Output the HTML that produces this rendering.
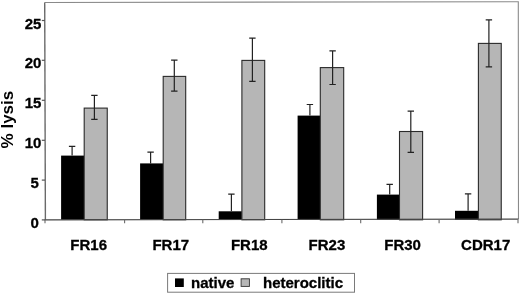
<!DOCTYPE html>
<html><head><meta charset="utf-8"><style>
html,body{margin:0;padding:0;background:#fff;}
body{width:520px;height:294px;overflow:hidden;}
svg{display:block;filter:blur(0.35px);}
.t{font-family:"Liberation Sans",Arial,sans-serif;font-weight:bold;font-size:15px;fill:#000;stroke:#000;stroke-width:0.3px;}
.yl{font-family:"Liberation Sans",Arial,sans-serif;font-weight:bold;font-size:15px;fill:#000;stroke:#000;stroke-width:0.3px;}
.yt{font-family:"Liberation Sans",Arial,sans-serif;font-weight:bold;font-size:17px;fill:#000;}
</style></head><body>
<svg width="520" height="294" viewBox="0 0 520 294">
<path d="M44.7 2.5L518.3 1.7L518.5 219.2" stroke="#8a8a8a" stroke-width="1.1" fill="none"/>
<rect x="61.1" y="155.6" width="23.1" height="64.2" fill="#000"/>
<rect x="84.2" y="108.1" width="23.05" height="111.7" fill="#b6b6b6" stroke="#2a2a2a" stroke-width="1.1"/>
<path d="M72.1 155.6V146.4M68.9 146.4H75.3" stroke="#222" stroke-width="1.2" fill="none"/>
<path d="M94.4 119.4V95.4M91.2 95.4H97.6M91.2 119.4H97.6" stroke="#222" stroke-width="1.2" fill="none"/>
<rect x="140.1" y="163.4" width="23.1" height="56.4" fill="#000"/>
<rect x="163.2" y="76.4" width="22.5" height="143.4" fill="#b6b6b6" stroke="#2a2a2a" stroke-width="1.1"/>
<path d="M150.6 163.4V152.2M147.4 152.2H153.8" stroke="#222" stroke-width="1.2" fill="none"/>
<path d="M174.3 91.1V60.2M171.1 60.2H177.5M171.1 91.1H177.5" stroke="#222" stroke-width="1.2" fill="none"/>
<rect x="218.7" y="211.3" width="23.2" height="8.5" fill="#000"/>
<rect x="241.9" y="60.4" width="22.8" height="159.4" fill="#b6b6b6" stroke="#2a2a2a" stroke-width="1.1"/>
<path d="M231.4 211.3V194.1M228.2 194.1H234.6" stroke="#222" stroke-width="1.2" fill="none"/>
<path d="M252.4 81.4V38.1M249.2 38.1H255.6M249.2 81.4H255.6" stroke="#222" stroke-width="1.2" fill="none"/>
<rect x="297.6" y="115.6" width="22.7" height="104.2" fill="#000"/>
<rect x="320.3" y="67.6" width="23.4" height="152.2" fill="#b6b6b6" stroke="#2a2a2a" stroke-width="1.1"/>
<path d="M309.9 115.6V104.5M306.7 104.5H313.1" stroke="#222" stroke-width="1.2" fill="none"/>
<path d="M332.6 84.5V50.9M329.4 50.9H335.8M329.4 84.5H335.8" stroke="#222" stroke-width="1.2" fill="none"/>
<rect x="376.9" y="194.6" width="22.6" height="25.2" fill="#000"/>
<rect x="399.5" y="131.5" width="23.1" height="88.3" fill="#b6b6b6" stroke="#2a2a2a" stroke-width="1.1"/>
<path d="M389.7 194.6V184.3M386.5 184.3H392.9" stroke="#222" stroke-width="1.2" fill="none"/>
<path d="M410.8 152.4V111.2M407.6 111.2H414.0M407.6 152.4H414.0" stroke="#222" stroke-width="1.2" fill="none"/>
<rect x="455.0" y="210.8" width="23.4" height="9.0" fill="#000"/>
<rect x="478.4" y="43.4" width="22.85" height="176.4" fill="#b6b6b6" stroke="#2a2a2a" stroke-width="1.1"/>
<path d="M468.1 210.8V193.8M464.9 193.8H471.3" stroke="#222" stroke-width="1.2" fill="none"/>
<path d="M488.9 66.8V19.9M485.7 19.9H492.1M485.7 66.8H492.1" stroke="#222" stroke-width="1.2" fill="none"/>
<path d="M44.7 2.5L45.4 219.8" stroke="#6a6a6a" stroke-width="1.4" fill="none"/>
<path d="M44.6 219.8L518.5 219.1" stroke="#454545" stroke-width="1.2" fill="none"/>
<path d="M41.8 219.9H45" stroke="#555" stroke-width="1.2"/>
<path d="M41.8 180.1H45" stroke="#555" stroke-width="1.2"/>
<path d="M41.8 140.3H45" stroke="#555" stroke-width="1.2"/>
<path d="M41.8 100.3H45" stroke="#555" stroke-width="1.2"/>
<path d="M41.8 60.3H45" stroke="#555" stroke-width="1.2"/>
<path d="M41.8 20.5H45" stroke="#555" stroke-width="1.2"/>
<path d="M45 219.8V223.3" stroke="#6a6a6a" stroke-width="1.1"/>
<path d="M124.6 219.8V223.3" stroke="#6a6a6a" stroke-width="1.1"/>
<path d="M202.8 219.8V223.3" stroke="#6a6a6a" stroke-width="1.1"/>
<path d="M281.9 219.8V223.3" stroke="#6a6a6a" stroke-width="1.1"/>
<path d="M360.7 219.8V223.3" stroke="#6a6a6a" stroke-width="1.1"/>
<path d="M439.1 219.8V223.3" stroke="#6a6a6a" stroke-width="1.1"/>
<path d="M518 219.8V223.3" stroke="#6a6a6a" stroke-width="1.1"/>
<text x="38.9" y="227.9" text-anchor="end" class="yl">0</text>
<text x="38.9" y="188.1" text-anchor="end" class="yl">5</text>
<text x="41.4" y="148.3" text-anchor="end" class="yl">10</text>
<text x="41.4" y="108.3" text-anchor="end" class="yl">15</text>
<text x="41.4" y="68.3" text-anchor="end" class="yl">20</text>
<text x="41.4" y="28.5" text-anchor="end" class="yl">25</text>
<text transform="translate(88.7 249.8)" text-anchor="middle" class="t">FR16</text>
<text transform="translate(170.8 249.8)" text-anchor="middle" class="t">FR17</text>
<text transform="translate(249.3 249.8)" text-anchor="middle" class="t">FR18</text>
<text transform="translate(326.9 249.8)" text-anchor="middle" class="t">FR23</text>
<text transform="translate(402.6 249.8)" text-anchor="middle" class="t">FR30</text>
<text transform="translate(485.7 249.8)" text-anchor="middle" class="t">CDR17</text>
<text transform="translate(12.8 148.4) rotate(-90)" x="0" y="0" class="yt">% lysis</text>
<rect x="167.6" y="273.4" width="186.9" height="18.8" fill="#fff" stroke="#7a7a7a" stroke-width="1"/>
<rect x="175" y="278.4" width="8.8" height="8.6" fill="#000"/>
<rect x="241.1" y="278.8" width="8.3" height="7.6" fill="#b6b6b6" stroke="#333" stroke-width="0.9"/>
<text x="191.0" y="288.0" class="t">native</text>
<text x="263.0" y="288.0" class="t">heteroclitic</text>
</svg>
</body></html>
